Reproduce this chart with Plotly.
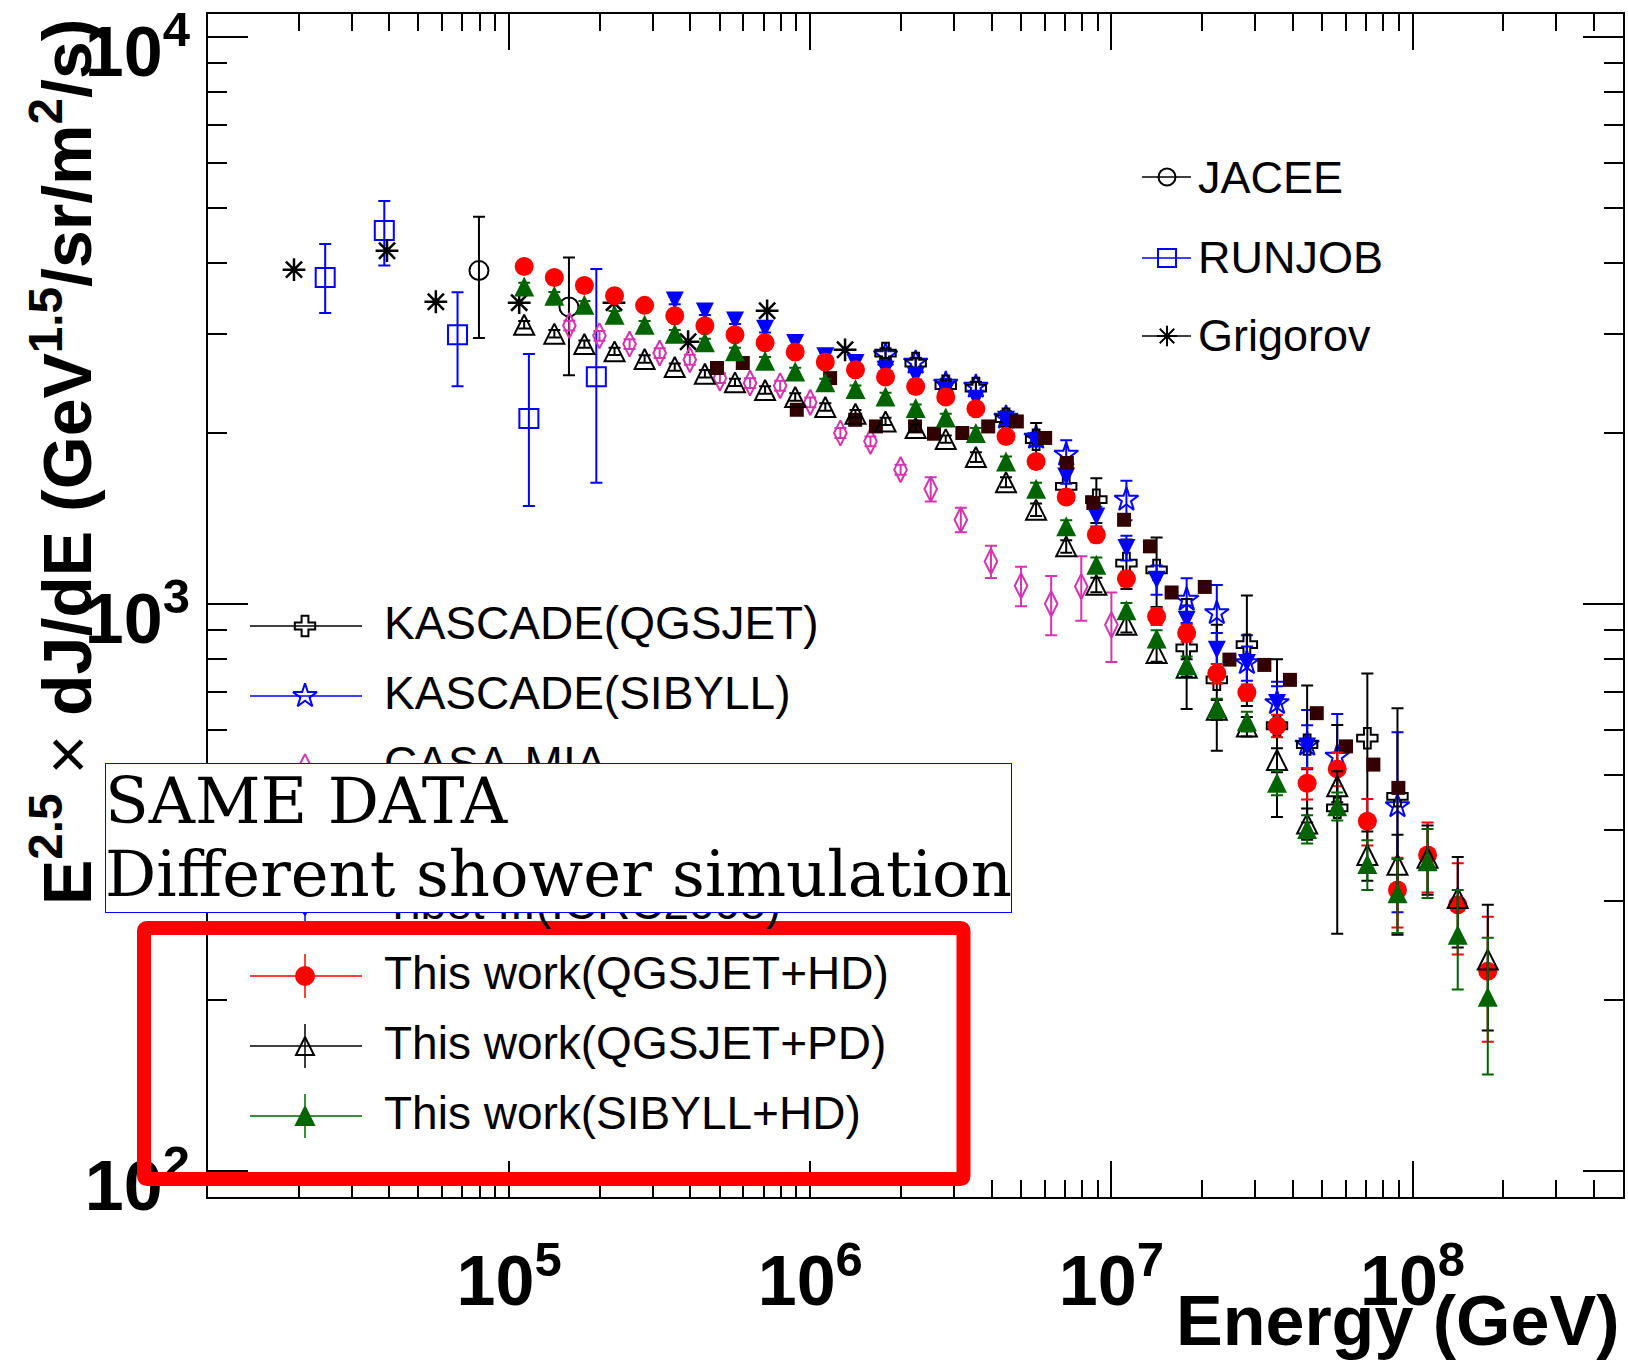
import plotly.graph_objects as go
import math

# ---------------- data ----------------
E_this = [1.122e5, 1.413e5, 1.778e5, 2.239e5, 2.818e5, 3.548e5, 4.467e5, 5.623e5, 7.079e5, 8.913e5,
          1.122e6, 1.413e6, 1.778e6, 2.239e6, 2.818e6, 3.548e6, 4.467e6, 5.623e6, 7.079e6, 8.913e6,
          1.122e7, 1.413e7, 1.778e7, 2.239e7, 2.818e7, 3.548e7, 4.467e7, 5.623e7, 7.079e7, 8.913e7,
          1.122e8, 1.413e8, 1.778e8]
F_qgs_hd = [3939, 3767, 3647, 3498, 3363, 3225, 3096, 2985, 2890, 2782,
            2672, 2590, 2514, 2420, 2318, 2210, 1975, 1784, 1544, 1325,
            1108, 951, 889, 754, 698, 610, 483, 512, 414, 313,
            361, 295, 225]
err_qgs_hd = [59, 57, 55, 52, 50, 48, 46, 45, 43, 42,
              40, 39, 38, 36, 35, 44, 40, 45, 39, 40,
              33, 33, 31, 30, 23, 28, 31, 35, 39, 44,
              51, 54, 56]
F_qgs_pd = [3109, 2998, 2874, 2790, 2705, 2618, 2548, 2460, 2385, 2318,
            2226, 2166, 2099, 2044, 1954, 1817, 1640, 1467, 1264, 1081,
            919, 820, 772, 651, 608, 531, 410, 477, 361, 347,
            357, 303, 236]
err_qgs_pd = [47, 45, 43, 42, 41, 39, 38, 37, 36, 35,
              33, 32, 31, 31, 29, 36, 33, 37, 32, 32,
              28, 29, 27, 26, 24, 26, 26, 30, 36, 45,
              50, 55, 59]
F_sib_hd = [3632, 3498, 3372, 3237, 3109, 2998, 2894, 2790, 2686, 2572,
            2460, 2394, 2323, 2216, 2134, 2003, 1784, 1597, 1371, 1173,
            975, 869, 781, 655, 621, 484, 401, 440, 348, 309,
            352, 261, 203]
err_sib_hd = [54, 52, 51, 49, 47, 45, 43, 42, 40, 39,
              37, 36, 35, 33, 32, 40, 36, 40, 34, 35,
              29, 30, 27, 26, 25, 24, 23, 25, 35, 46,
              49, 52, 55]

E_kq = [1.778e6, 2.239e6, 2.818e6, 3.548e6, 4.467e6, 5.623e6, 7.079e6, 8.913e6, 1.122e7,
        1.413e7, 1.778e7, 2.239e7, 2.818e7, 3.548e7, 4.467e7, 5.623e7, 7.079e7, 8.913e7]
F_kq = [2771, 2661, 2427, 2404, 2123, 1949, 1612, 1528, 1181,
        1149, 837, 735, 848, 610, 565, 437, 580, 458]
err_kq = [55, 53, 49, 60, 64, 136, 97, 138, 118,
          161, 184, 184, 187, 189, 153, 175, 174, 197]

E_ks = [1.778e6, 2.239e6, 2.818e6, 3.548e6, 4.467e6, 5.623e6, 7.079e6, 1.122e7,
        1.778e7, 2.239e7, 2.818e7, 3.548e7, 4.467e7, 5.623e7, 8.913e7]
F_ks = [2748, 2665, 2447, 2417, 2131, 1965, 1834, 1528,
        1018, 964, 787, 669, 565, 538, 440]
err_ks = [55, 53, 49, 48, 43, 39, 110, 122,
          92, 116, 94, 60, 85, 102, 154]

E_casa = [1.585e5, 1.995e5, 2.512e5, 3.162e5, 3.981e5, 5.012e5, 6.310e5, 7.943e5, 1.0e6, 1.259e6,
          1.585e6, 1.995e6, 2.512e6, 3.162e6, 3.981e6, 5.012e6, 6.310e6, 7.943e6, 1.0e7]
F_casa = [3099, 2973, 2874, 2771, 2697, 2503, 2453, 2427, 2268, 2003,
          1936, 1726, 1595, 1408, 1189, 1077, 1001, 1074, 919]
err_casa = [62, 59, 57, 55, 54, 50, 49, 49, 45, 40,
            39, 35, 78, 70, 78, 86, 120, 140, 129]

E_akeno = [4.90e5, 5.97e5, 9.02e5, 1.164e6, 1.41e6, 1.652e6, 2.228e6, 2.576e6, 3.199e6, 3.899e6,
           4.853e6, 6.026e6, 7.112e6, 8.71e6, 1.102e7, 1.343e7, 1.585e7, 2.042e7, 2.466e7, 3.221e7,
           3.917e7, 4.808e7, 6.012e7, 7.413e7, 8.974e7]
F_akeno = [2608, 2661, 2201, 2503, 2113, 2057, 2057, 1997, 2003, 2057,
           2099, 1963, 1773, 1507, 1408, 1264, 1048, 1072, 798, 781,
           735, 642, 561, 521, 474]

E_tibet = [3.548e5, 4.467e5, 5.623e5, 7.079e5, 8.913e5, 1.122e6, 1.413e6, 1.778e6, 2.239e6, 2.818e6,
           3.548e6, 4.467e6, 5.623e6, 7.079e6, 8.913e6, 1.122e7, 1.413e7, 1.778e7, 2.239e7, 2.818e7,
           3.548e7, 4.467e7]
F_tibet = [3430, 3282, 3164, 3058, 2886, 2734, 2661, 2590, 2527, 2378,
           2302, 2114, 1936, 1679, 1427, 1256, 1104, 938, 831, 787,
           669, 561]
err_tibet = [50, 49, 47, 46, 43, 41, 40, 39, 38, 36,
             35, 42, 39, 50, 57, 63, 66, 56, 58, 55,
             47, 50]

E_jacee = [7.94e4, 1.58e5]
F_jacee = [3873, 3342]
errp_jacee = [947, 743]
errm_jacee = [928, 811]

E_runjob = [2.45e4, 3.85e4, 6.74e4, 1.163e5, 1.948e5]
F_runjob = [3767, 4560, 2985, 2124, 2517]
errp_runjob = [548, 580, 563, 636, 1382]
errm_runjob = [508, 606, 563, 635, 881]

E_grig = [1.93e4, 3.93e4, 5.71e4, 1.08e5, 2.23e5, 3.93e5, 7.19e5, 1.305e6]
F_grig = [3888, 4199, 3413, 3400, 3400, 2901, 3290, 2808]

x_tickvals = [1e5, 1e6, 1e7, 1e8]
x_ticktext = ["10<sup>5</sup>", "10<sup>6</sup>", "10<sup>7</sup>", "10<sup>8</sup>"]
y_tickvals = [1e2, 1e3, 1e4]
y_ticktext = ["10<sup>2</sup>", "10<sup>3</sup>", "10<sup>4</sup>"]

legend_top = ["JACEE", "RUNJOB", "Grigorov"]
legend_low = ["KASCADE(QGSJET)", "KASCADE(SIBYLL)", "CASA-MIA", "Akeno", "Tibet III(ICRC2005)",
              "This work(QGSJET+HD)", "This work(QGSJET+PD)", "This work(SIBYLL+HD)"]

# ---------------- styling / geometry ----------------
W, H = 1628, 1362
L, R, T, B = 208, 1623, 14, 1197


def px(x):
    return (x - L) / (R - L)


def py(y):
    return (B - y) / (B - T)


RED = "#ff0000"
GREEN = "#006400"
BLUE = "#0000ff"
MAG = "#d633b0"
BROWN = "#330000"
BLACK = "#000000"

TRI = 20  # triangle marker size (isosceles, as tall as wide)

# equal width/height triangles built from plotly arrow symbols, re-centred with standoff
SYM = {
    "tri_up": ("arrow-down", 180),
    "tri_up_open": ("arrow-down-open", 180),
    "tri_down": ("arrow-down", 0),
}

fig = go.Figure()


def marker_dict(sym, size, color, lw):
    if sym in SYM:
        s, ang = SYM[sym]
        return dict(symbol=s, size=size, color=color, angle=ang, standoff=size / 2,
                    line=dict(color=color, width=lw))
    return dict(symbol=sym, size=size, color=color, line=dict(color=color, width=lw))


def add_series(E, F, symbol, color, size, errp=None, errm=None, lw=2.0):
    ey = None
    if errp is not None:
        ey = dict(type="data", array=errp, arrayminus=errm if errm is not None else errp,
                  color=color, thickness=2, width=6, visible=True)
    fig.add_trace(go.Scatter(
        x=E, y=F, mode="markers", marker=marker_dict(symbol, size, color, lw),
        error_y=ey, showlegend=False, hoverinfo="skip"))


add_series(E_runjob, F_runjob, "square-open", BLUE, 19, errp_runjob, errm_runjob)
add_series(E_jacee, F_jacee, "circle-open", BLACK, 19, errp_jacee, errm_jacee)
add_series(E_grig, F_grig, "asterisk-open", BLACK, 19, lw=2.5)
add_series(E_casa, F_casa, "diamond-tall-open", MAG, 18, err_casa)
add_series(E_ks, F_ks, "star-open", BLUE, 18, err_ks)
add_series(E_kq, F_kq, "cross-open", BLACK, 17, err_kq)
add_series(E_tibet, F_tibet, "tri_down", BLUE, 18, err_tibet, lw=0)
add_series(E_akeno, F_akeno, "square", BROWN, 14, lw=0)
add_series(E_this, F_qgs_hd, "circle", RED, 19, err_qgs_hd, lw=0)
add_series(E_this, F_qgs_pd, "tri_up_open", BLACK, TRI, err_qgs_pd)
add_series(E_this, F_sib_hd, "tri_up", GREEN, TRI, err_sib_hd, lw=0)

# ---------------- hand-built legends (overlay axis in paper units) ----------------
top_rows = [177, 258, 336]
top_style = [("circle-open", BLACK, 17), ("square-open", BLUE, 18), ("asterisk-open", BLACK, 17)]
for yrow, (sym, col, sz) in zip(top_rows, top_style):
    fig.add_trace(go.Scatter(x=[px(1142), px(1191)], y=[py(yrow)] * 2, mode="lines",
                             line=dict(color=col, width=1.5), xaxis="x2", yaxis="y2",
                             showlegend=False, hoverinfo="skip"))
    fig.add_trace(go.Scatter(x=[px(1167)], y=[py(yrow)], mode="markers",
                             marker=marker_dict(sym, sz, col, 2),
                             xaxis="x2", yaxis="y2", showlegend=False, hoverinfo="skip"))

low_rows = [626, 696, 766, 836, 906, 976, 1046, 1116]
low_style = [("cross-open", BLACK, 17, False), ("star-open", BLUE, 18, False),
             ("diamond-tall-open", MAG, 17, False), ("square", BROWN, 14, False),
             ("tri_down", BLUE, 18, True), ("circle", RED, 18, True),
             ("tri_up_open", BLACK, 18, True), ("tri_up", GREEN, 18, True)]
for yrow, (sym, col, sz, bar) in zip(low_rows, low_style):
    fig.add_trace(go.Scatter(x=[px(250), px(362)], y=[py(yrow)] * 2, mode="lines",
                             line=dict(color=col, width=1.5), xaxis="x2", yaxis="y2",
                             showlegend=False, hoverinfo="skip"))
    ey = dict(type="data", array=[22 / (B - T)], color=col, thickness=1.5, width=0) if bar else None
    fig.add_trace(go.Scatter(x=[px(305)], y=[py(yrow)], mode="markers",
                             marker=marker_dict(sym, sz, col, 2),
                             error_y=ey, xaxis="x2", yaxis="y2", showlegend=False, hoverinfo="skip"))

annotations = []
for yrow, txt in zip(top_rows, legend_top):
    annotations.append(dict(text=txt, x=px(1197), y=py(yrow), xref="paper", yref="paper",
                            xanchor="left", yanchor="middle", showarrow=False, borderpad=0,
                            font=dict(family="Liberation Sans", size=45, color=BLACK)))
for yrow, txt in zip(low_rows, legend_low):
    annotations.append(dict(text=txt, x=px(383), y=py(yrow - 3), xref="paper", yref="paper",
                            xanchor="left", yanchor="middle", showarrow=False, borderpad=0,
                            font=dict(family="Liberation Sans", size=46, color=BLACK)))

# axis titles
annotations.append(dict(
    text="<b>E<sup>2.5</sup></b> <span style='font-weight:normal'>×</span> "
         "<b>dJ/dE (GeV<sup>1.5</sup>/sr/m<sup>2</sup>/s)</b>",
    x=px(62), y=py(462), xref="paper", yref="paper", xanchor="center", yanchor="middle",
    textangle=-90, showarrow=False,
    font=dict(family="Liberation Sans", size=68, color=BLACK)))
annotations.append(dict(
    text="<b>Energy (GeV)</b>", x=px(1621), y=py(1321), xref="paper", yref="paper",
    xanchor="right", yanchor="middle", showarrow=False,
    font=dict(family="Liberation Sans", size=70, color=BLACK)))

# overlay box
annotations.append(dict(text=" ", x=px(104.6), y=py(762.7), xref="paper", yref="paper",
                        xanchor="left", yanchor="top", showarrow=False,
                        width=905, height=147.6, bgcolor="white", bordercolor=BLUE,
                        borderwidth=1, borderpad=0, font=dict(size=10)))
annotations.append(dict(text="SAME DATA", x=px(104), y=py(763), xref="paper", yref="paper",
                        xanchor="left", yanchor="top", showarrow=False, borderpad=0,
                        font=dict(family="DejaVu Serif", size=64, color=BLACK)))
annotations.append(dict(text="Different shower simulation", x=px(104), y=py(836),
                        xref="paper", yref="paper", xanchor="left", yanchor="top",
                        showarrow=False, borderpad=0,
                        font=dict(family="DejaVu Serif", size=64, color=BLACK)))

# red highlight frame
x0, x1 = px(144), px(963.5)
yt, yb = py(928), py(1179)
rx, ry = 3 / (R - L), 3 / (B - T)
path = (f"M {x0 + rx},{yt} L {x1 - rx},{yt} Q {x1},{yt} {x1},{yt - ry} "
        f"L {x1},{yb + ry} Q {x1},{yb} {x1 - rx},{yb} L {x0 + rx},{yb} "
        f"Q {x0},{yb} {x0},{yb + ry} L {x0},{yt - ry} Q {x0},{yt} {x0 + rx},{yt} Z")
shapes = [dict(type="path", path=path, xref="paper", yref="paper", layer="above",
               line=dict(color=RED, width=14), fillcolor="rgba(0,0,0,0)")]

x_minor = [m * 10 ** d for d in range(4, 9) for m in range(2, 10) if m * 10 ** d <= 5e8]
y_minor = [m * 10 ** d for d in range(2, 4) for m in range(2, 10)]

fig.update_layout(
    width=W, height=H, autosize=False,
    margin=dict(l=L, r=W - R, t=T, b=H - B, pad=0, autoexpand=False),
    paper_bgcolor="white", plot_bgcolor="white",
    showlegend=False,
    xaxis=dict(type="log", range=[4, math.log10(5e8)], showgrid=False, zeroline=False,
               automargin=False,
               showline=True, linewidth=2, linecolor=BLACK, mirror="ticks",
               ticks="inside", ticklen=36, tickwidth=2, tickcolor=BLACK,
               tickmode="array", tickvals=x_tickvals, ticktext=x_ticktext,
               tickfont=dict(family="Liberation Sans", size=70, color=BLACK, weight="bold"),
               ticklabelstandoff=22, ticklabeloverflow="allow",
               minor=dict(ticks="inside", ticklen=17, tickwidth=2, tickcolor=BLACK,
                          tickmode="array", tickvals=x_minor, showgrid=False)),
    yaxis=dict(type="log", range=[math.log10(90), 4.0406], showgrid=False, zeroline=False,
               automargin=False,
               showline=True, linewidth=2, linecolor=BLACK, mirror="ticks",
               ticks="inside", ticklen=40, tickwidth=2, tickcolor=BLACK,
               tickmode="array", tickvals=y_tickvals, ticktext=y_ticktext,
               tickfont=dict(family="Liberation Sans", size=70, color=BLACK, weight="bold"),
               ticklabelstandoff=2, ticklabelshift=14, ticklabeloverflow="allow",
               minor=dict(ticks="inside", ticklen=19, tickwidth=2, tickcolor=BLACK,
                          tickmode="array", tickvals=y_minor, showgrid=False)),
    xaxis2=dict(overlaying="x", anchor="y2", range=[0, 1], visible=False, fixedrange=True),
    yaxis2=dict(overlaying="y", anchor="x2", range=[0, 1], visible=False, fixedrange=True),
    annotations=annotations,
    shapes=shapes,
)

fig.write_html("out.html")
